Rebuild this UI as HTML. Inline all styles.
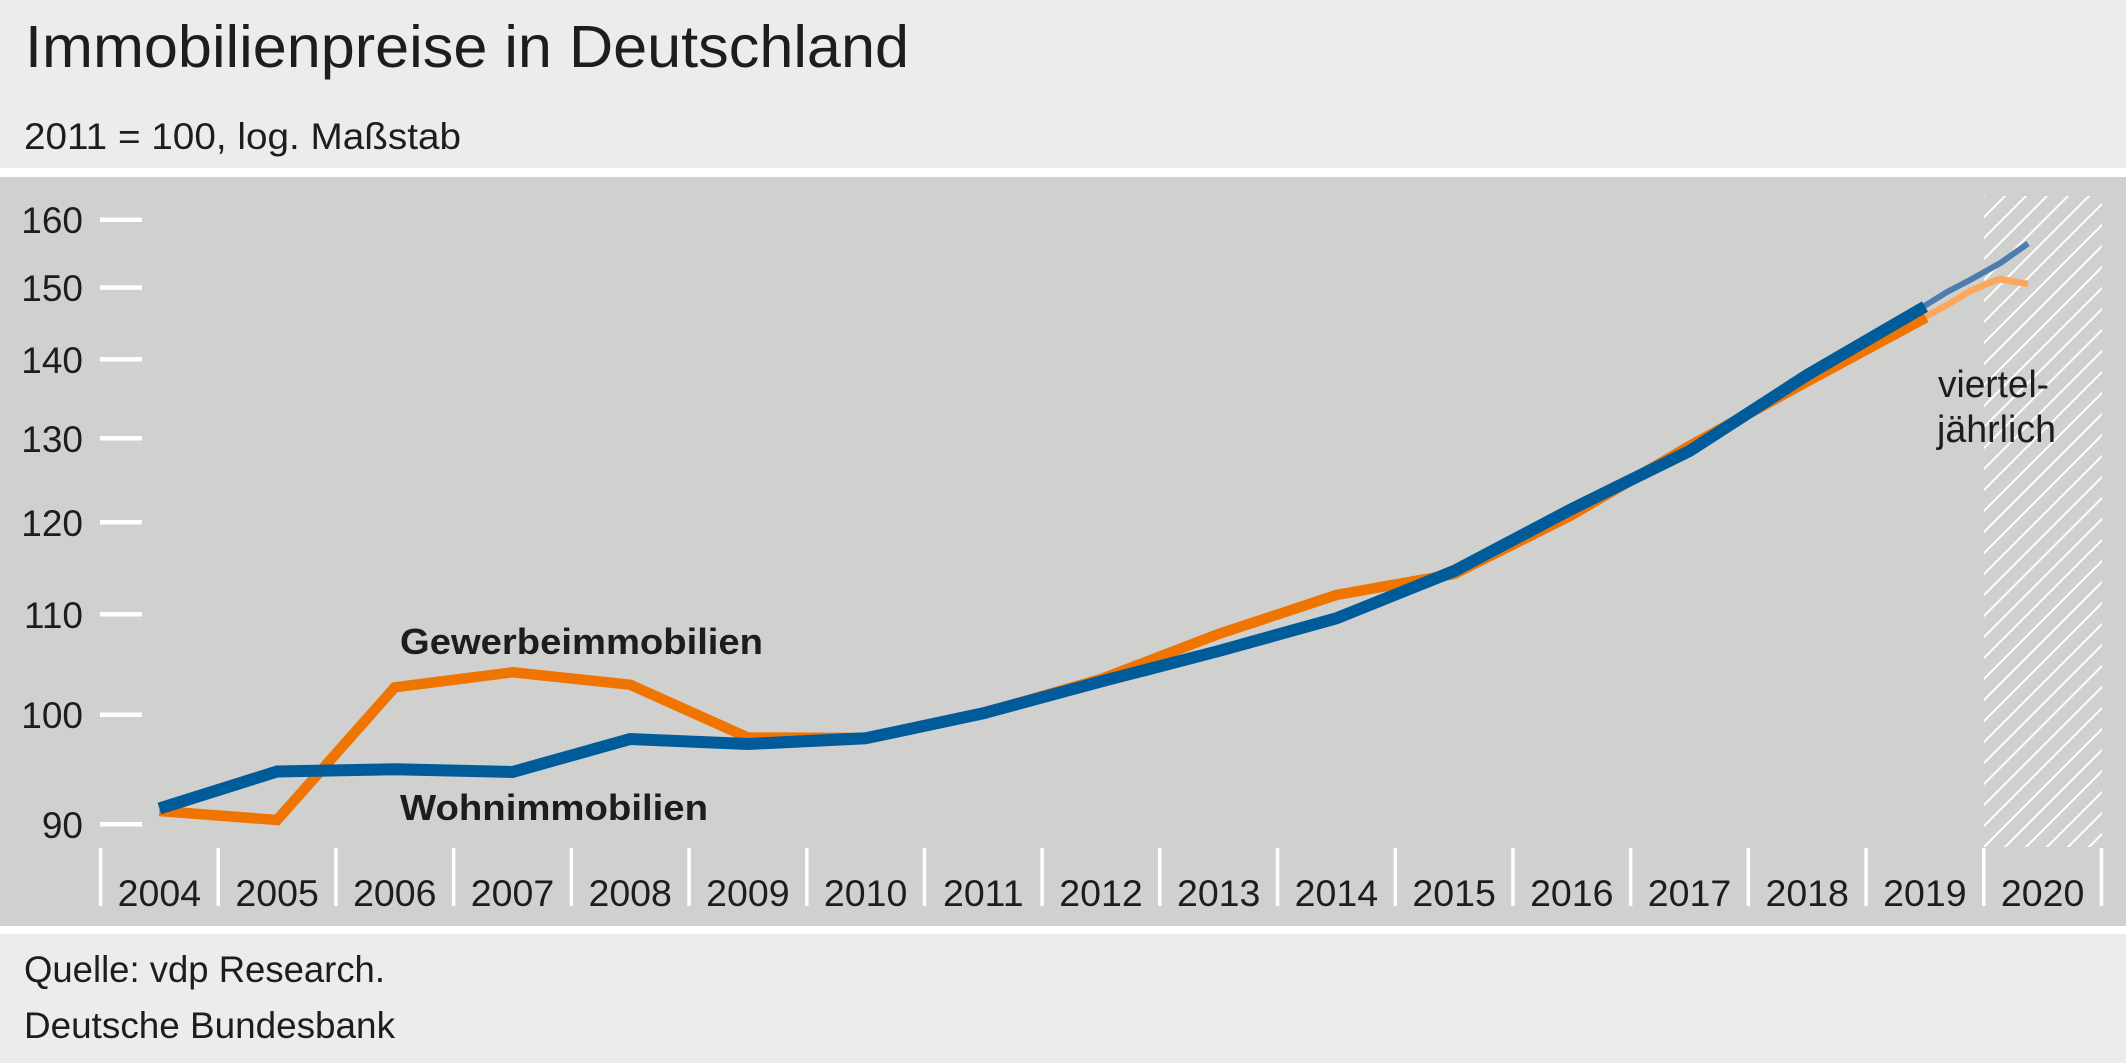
<!DOCTYPE html>
<html><head><meta charset="utf-8"><style>
html,body{margin:0;padding:0;background:#ececec;}
svg{display:block;}
text{font-family:"Liberation Sans",sans-serif;fill:#1d1d1b;}
</style></head><body>
<svg width="2126" height="1063" viewBox="0 0 2126 1063" xmlns="http://www.w3.org/2000/svg">
<defs>
<pattern id="h" patternUnits="userSpaceOnUse" width="21" height="21" x="1984" y="196">
<path d="M-2,2 L2,-2 M0,21 L21,0 M19,23 L23,19" stroke="#ffffff" stroke-width="2"/>
</pattern>
</defs>
<rect x="0" y="0" width="2126" height="1063" fill="#ececec"/>
<rect x="0" y="168" width="2126" height="9" fill="#ffffff"/>
<rect x="0" y="177" width="2126" height="749" fill="#d0d0ce"/>
<rect x="0" y="926" width="2126" height="8" fill="#ffffff"/>

<text x="25" y="67" font-size="59" textLength="884" lengthAdjust="spacingAndGlyphs">Immobilienpreise in Deutschland</text>
<text x="24" y="149" font-size="37" textLength="437" lengthAdjust="spacingAndGlyphs">2011 = 100, log. Maßstab</text>
<text x="24" y="982" font-size="37" textLength="361" lengthAdjust="spacingAndGlyphs">Quelle: vdp Research.</text>
<text x="24" y="1038" font-size="37" textLength="371" lengthAdjust="spacingAndGlyphs">Deutsche Bundesbank</text>

<!-- hatch -->
<rect x="1984" y="196" width="118" height="651" fill="url(#h)"/>

<!-- y ticks -->
<g fill="#ffffff">
<rect x="100" y="217.5" width="42" height="4.5"/>
<rect x="100" y="285.3" width="42" height="4.5"/>
<rect x="100" y="357" width="42" height="4.5"/>
<rect x="100" y="436" width="42" height="4.5"/>
<rect x="100" y="520" width="42" height="4.5"/>
<rect x="100" y="612" width="42" height="4.5"/>
<rect x="100" y="712.5" width="42" height="4.5"/>
<rect x="100" y="822" width="42" height="4.5"/>
</g>
<g font-size="37" text-anchor="end">
<text x="83" y="233">160</text>
<text x="83" y="301">150</text>
<text x="83" y="373">140</text>
<text x="83" y="452">130</text>
<text x="83" y="536">120</text>
<text x="83" y="628">110</text>
<text x="83" y="728">100</text>
<text x="83" y="838">90</text>
</g>

<!-- x separators -->
<g fill="#ffffff">
<rect x="98.8" y="848" width="3.5" height="58"/>
<rect x="216.5" y="848" width="3.5" height="58"/>
<rect x="334.2" y="848" width="3.5" height="58"/>
<rect x="451.9" y="848" width="3.5" height="58"/>
<rect x="569.6" y="848" width="3.5" height="58"/>
<rect x="687.3" y="848" width="3.5" height="58"/>
<rect x="805" y="848" width="3.5" height="58"/>
<rect x="922.7" y="848" width="3.5" height="58"/>
<rect x="1040.4" y="848" width="3.5" height="58"/>
<rect x="1158.1" y="848" width="3.5" height="58"/>
<rect x="1275.8" y="848" width="3.5" height="58"/>
<rect x="1393.5" y="848" width="3.5" height="58"/>
<rect x="1511.2" y="848" width="3.5" height="58"/>
<rect x="1628.9" y="848" width="3.5" height="58"/>
<rect x="1746.6" y="848" width="3.5" height="58"/>
<rect x="1864.3" y="848" width="3.5" height="58"/>
<rect x="1982" y="848" width="3.5" height="58"/>
<rect x="2099.7" y="848" width="3.5" height="58"/>
</g>
<g font-size="37.5" text-anchor="middle">
<text x="159.4" y="906">2004</text>
<text x="277.1" y="906">2005</text>
<text x="394.8" y="906">2006</text>
<text x="512.5" y="906">2007</text>
<text x="630.2" y="906">2008</text>
<text x="747.9" y="906">2009</text>
<text x="865.6" y="906">2010</text>
<text x="983.3" y="906">2011</text>
<text x="1101" y="906">2012</text>
<text x="1218.7" y="906">2013</text>
<text x="1336.4" y="906">2014</text>
<text x="1454.1" y="906">2015</text>
<text x="1571.8" y="906">2016</text>
<text x="1689.5" y="906">2017</text>
<text x="1807.2" y="906">2018</text>
<text x="1924.9" y="906">2019</text>
<text x="2042.6" y="906">2020</text>
</g>

<!-- quarterly lines -->
<polyline fill="none" stroke="#fca75b" stroke-width="6.5" stroke-linejoin="round" points="1922,318.5 1947,305 1970,291 1999,279 2028,284"/>
<polyline fill="none" stroke="#4c7dad" stroke-width="6" stroke-linejoin="round" points="1922,307.5 1947,292 1970,280 2000,263.3 2028,243.5"/>

<!-- orange annual -->
<polyline fill="none" stroke="#ef7400" stroke-width="10.5" stroke-linejoin="miter" stroke-miterlimit="10" points="159.4,811 277.1,820 394.8,687.3 512.5,672.3 630.2,684.7 747.9,737.5 865.6,738 983.3,713 1101,679 1218.7,634 1336.4,595 1454.1,574 1571.8,515 1689.5,446 1807.2,381.5 1926,317.5"/>
<!-- blue annual -->
<polyline fill="none" stroke="#005b9b" stroke-width="12" stroke-linejoin="miter" stroke-miterlimit="10" points="159.4,808.5 277.1,771.5 394.8,769.3 512.5,772 630.2,739 747.9,744 865.6,738.3 983.3,713.3 1101,681.5 1218.7,651 1336.4,618.3 1454.1,571 1571.8,509 1689.5,451 1807.2,375 1925,306.5"/>

<text x="400" y="654" font-size="36" font-weight="bold" textLength="363" lengthAdjust="spacingAndGlyphs">Gewerbeimmobilien</text>
<text x="400" y="820" font-size="36" font-weight="bold" textLength="308" lengthAdjust="spacingAndGlyphs">Wohnimmobilien</text>

<text x="1938" y="397" font-size="38" textLength="111" lengthAdjust="spacingAndGlyphs">viertel-</text>
<text x="1937" y="442" font-size="38" textLength="119" lengthAdjust="spacingAndGlyphs">jährlich</text>
</svg>
</body></html>
